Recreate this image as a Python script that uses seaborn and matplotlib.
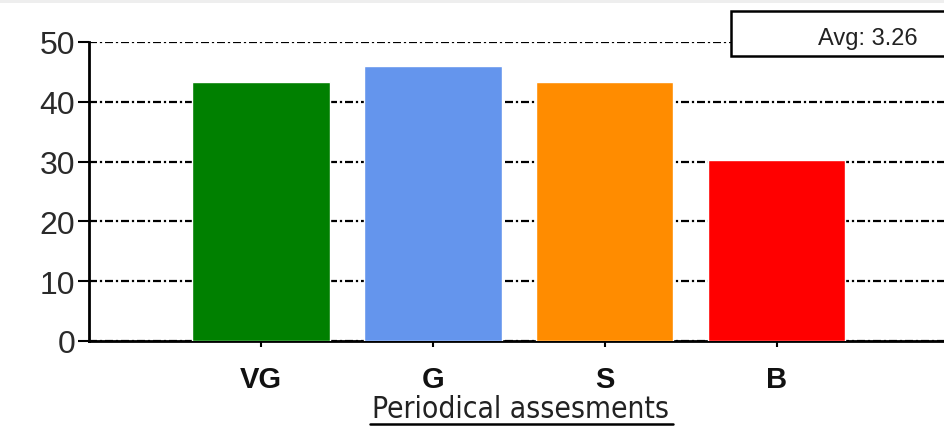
import matplotlib
matplotlib.use("Agg")
import matplotlib.pyplot as plt
import matplotlib.patches as patches
import seaborn as sns
import pandas as pd

# data
categories = ["VG", "G", "S", "B"]
counts = [43.3, 46.0, 43.3, 30.3]
bar_colors = ["#008000", "#6495ED", "#FF8C00", "#FF0000"]
avg_text = "Avg: 3.26"
x_title = "Periodical assesments"

df = pd.DataFrame({"grade": categories, "count": counts})

sns.set_style("white")
plt.rcParams["font.family"] = ["Liberation Sans", "DejaVu Sans"]

fig = plt.figure(figsize=(9.45, 4.27), dpi=100)
ax = fig.add_axes([89 / 945, 1 - 342 / 427, 1 - 89 / 945, (342 - 43) / 427])

sns.barplot(data=df, x="grade", y="count", hue="grade", palette=bar_colors,
            width=0.8, saturation=1, legend=False, ax=ax, zorder=3)

ax.set_xlim(-1, 3.98)
ax.set_ylim(0, 50)
ax.set_yticks([0, 10, 20, 30, 40, 50])
ax.yaxis.grid(True, color="black", linestyle=(0, (3.6, 1.3, 1, 1.3)), linewidth=1.6, zorder=0)
ax.set_axisbelow(True)

for s in ["top", "right"]:
    ax.spines[s].set_visible(False)
for s in ["left", "bottom"]:
    ax.spines[s].set_color("black")
    ax.spines[s].set_linewidth(2)

ax.tick_params(axis="y", direction="out", length=8, width=1.5, color="black",
               labelsize=23, labelcolor="#2a2a2a", pad=2, left=True)
ax.tick_params(axis="x", direction="out", length=4, width=1.5, color="black",
               pad=13, bottom=True)
for lab in ax.get_xticklabels():
    lab.set_fontweight("bold")
    lab.set_fontsize(21)
    lab.set_color("#111111")

ax.set_ylabel("")
ax.set_xlabel("")
# x title, underlined, centred under the bars
fig.text(521 / 945, 1 - 410 / 427, x_title, ha="center", va="center",
         fontsize=21.5, fontstretch="condensed", family=["DejaVu Sans"], color="#222222")
fig.add_artist(plt.Line2D([370 / 945, 673 / 945], [1 - 425 / 427, 1 - 425 / 427],
                          color="black", linewidth=1.8))

# average box in the top right corner
fig.add_artist(patches.Rectangle((731 / 945, 1 - 57 / 427), 0.3, 45 / 427,
                                 facecolor="white", edgecolor="black", linewidth=1.8,
                                 zorder=5))
fig.text(868 / 945, 1 - 39 / 427, avg_text, ha="center", va="center",
         fontsize=17, color="#222222", zorder=6)

# thin grey strip at the very top
fig.add_artist(patches.Rectangle((0, 1 - 4 / 427), 1, 4 / 427, facecolor="#eeeeee",
                                 edgecolor="none", zorder=7))

fig.savefig("out.png", dpi=100)
